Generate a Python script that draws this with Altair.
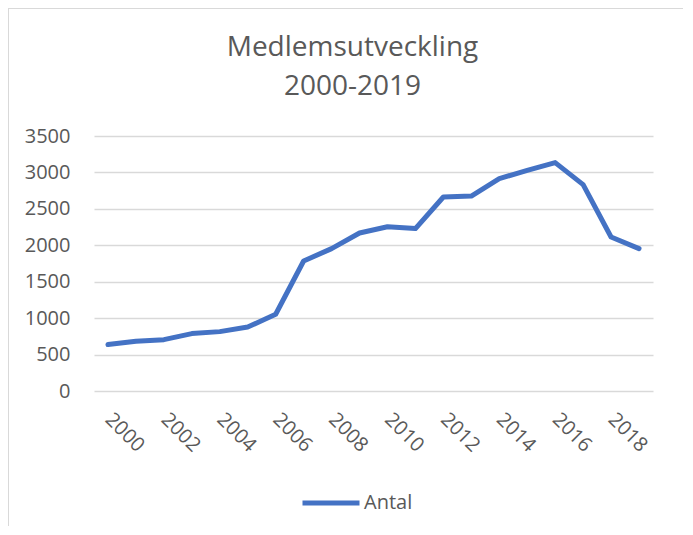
import altair as alt
import pandas as pd

years = [2000, 2001, 2002, 2003, 2004, 2005, 2006, 2007, 2008, 2009,
         2010, 2011, 2012, 2013, 2014, 2015, 2016, 2017, 2018, 2019]
antal = [637, 682, 705, 788, 815, 878, 1053, 1784, 1954, 2169,
         2255, 2229, 2663, 2676, 2915, 3029, 3135, 2833, 2114, 1954]
x_labels = [2000, 2002, 2004, 2006, 2008, 2010, 2012, 2014, 2016, 2018]
y_ticks = [0, 500, 1000, 1500, 2000, 2500, 3000, 3500]
series = "Antal"
title_lines = ["Medlemsutveckling", "2000-2019"]

df = pd.DataFrame({"År": years, "Antal": antal, "Serie": [series] * len(years)})

TXT = "#595959"
FONT = "Open Sans"

line = alt.Chart(df).mark_line(
    strokeWidth=5, strokeCap="round", strokeJoin="round"
).encode(
    x=alt.X("År:O",
            scale=alt.Scale(type="point", padding=0.5),
            axis=alt.Axis(values=x_labels, labelAngle=45, labelAlign="left",
                          labelBaseline="middle", ticks=False, tickSize=0,
                          domain=False, grid=False, labelPadding=25, title=None,
                          labelFontSize=20, labelColor=TXT, labelFont=FONT)),
    y=alt.Y("Antal:Q",
            scale=alt.Scale(domain=[0, 3500], nice=False),
            axis=alt.Axis(values=y_ticks, format="d", ticks=False, tickSize=0,
                          domain=False, gridColor="#d9d9d9", gridWidth=1.5,
                          labelPadding=24, title=None, labelFontSize=20,
                          labelColor=TXT, labelFont=FONT)),
    color=alt.Color("Serie:N", scale=alt.Scale(range=["#4472C4"]),
                    legend=alt.Legend(title=None, orient="none", legendX=206,
                                      legendY=336, symbolType="stroke",
                                      symbolSize=3249, symbolStrokeWidth=5,
                                      labelFontSize=20, labelColor=TXT,
                                      labelFont=FONT, labelOffset=2)),
)

frame = pd.DataFrame({"k": [0]})
left_border = alt.Chart(frame).mark_rule(color="#d9d9d9", strokeWidth=1).encode(
    x=alt.value(-85.5), y=alt.value(-128), y2=alt.value(400))
top_border = alt.Chart(frame).mark_rule(color="#d9d9d9", strokeWidth=1).encode(
    x=alt.value(-86), x2=alt.value(600), y=alt.value(-127.5))

chart = alt.layer(line, left_border, top_border).properties(
    width=559, height=255,
    autosize=alt.AutoSizeParams(type="none"),
    padding={"left": 86, "top": 128, "right": 30, "bottom": 135},
    title=alt.TitleParams(title_lines, fontSize=28, font=FONT,
                          fontWeight="normal", color=TXT, anchor="middle",
                          offset=-93, lineHeight=39, dx=-21),
).configure(font=FONT).configure_view(stroke=None)

chart.save("out.html", embed_options={"renderer": "svg", "actions": False})
